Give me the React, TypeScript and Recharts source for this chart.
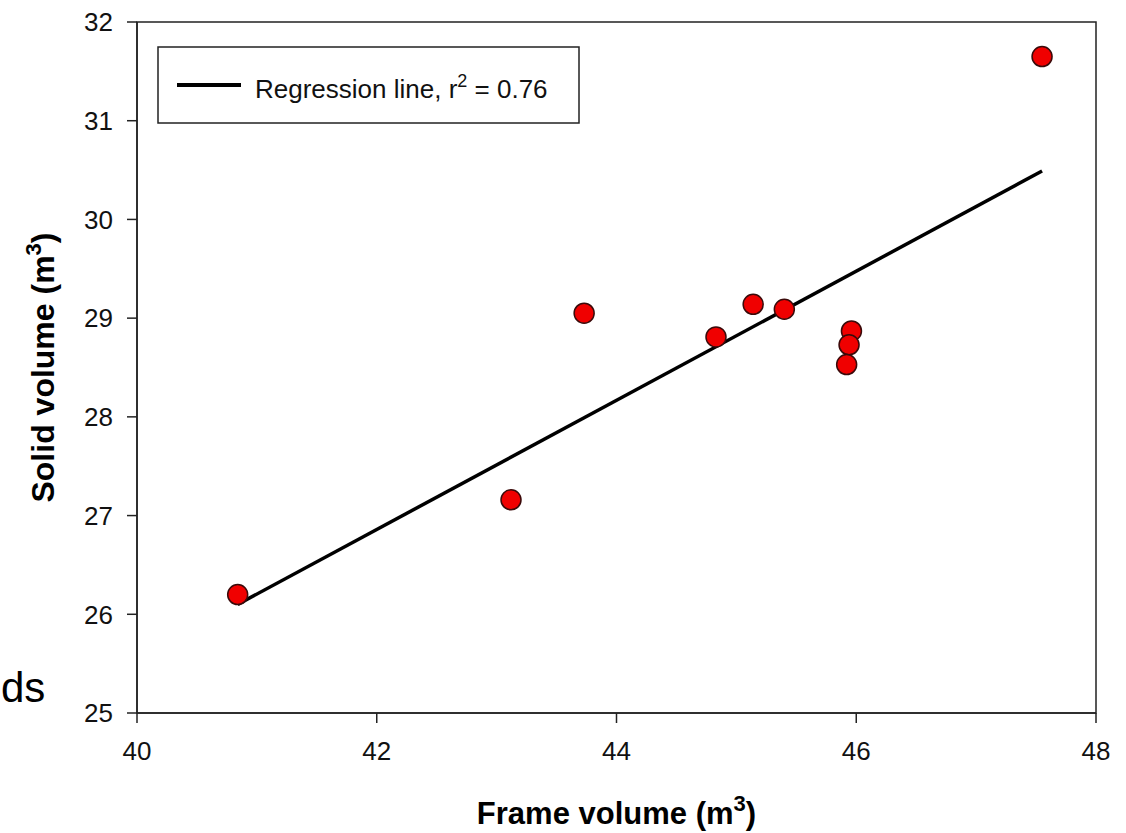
import React from 'react';
import {
  ScatterChart,
  Scatter,
  XAxis,
  YAxis,
  ReferenceArea,
  Label
} from 'recharts';

// measured points
const frameVolume = [40.84, 43.12, 43.73, 44.83, 45.14, 45.4, 45.96, 45.94, 45.92, 47.55];
const solidVolume = [26.2, 27.16, 29.05, 28.81, 29.14, 29.09, 28.87, 28.73, 28.53, 31.65];

// regression line end points
const lineX = [40.84, 47.55];
const lineY = [26.1, 30.49];

const xTicks = [40, 42, 44, 46, 48];
const yTicks = [25, 26, 27, 28, 29, 30, 31, 32];

const points = frameVolume.map((x, i) => ({ x, y: solidVolume[i] }));
const regression = lineX.map((x, i) => ({ x, y: lineY[i] }));

const FONT = 'Arial, "Liberation Sans", sans-serif';
const W = 1126;
const H = 833;

const Dot = (props: any) => (
  <circle cx={props.cx} cy={props.cy} r={10} fill="#f00000" stroke="#3a0a0a" strokeWidth={1.5} />
);

const XTitle = (props: any) => {
  const vb = props.viewBox;
  return (
    <text
      x={vb.x + vb.width / 2}
      y={vb.y + 111}
      textAnchor="middle"
      fontFamily={FONT}
      fontWeight="bold"
      fontSize={31}
      fill="#000"
    >
      Frame volume (m
      <tspan dy={-13} fontSize={22}>3</tspan>
      <tspan dy={13}>)</tspan>
    </text>
  );
};

const YTitle = (props: any) => {
  const vb = props.viewBox;
  const x = vb.x + 17;
  const y = vb.y + vb.height / 2;
  return (
    <text
      x={x}
      y={y}
      transform={`rotate(-90, ${x}, ${y})`}
      textAnchor="middle"
      fontFamily={FONT}
      fontWeight="bold"
      fontSize={32}
      fill="#000"
    >
      Solid volume (m
      <tspan dy={-13} fontSize={22}>3</tspan>
      <tspan dy={13}>)</tspan>
    </text>
  );
};

const App: React.FC = () => {
  const tick = { fill: '#111', fontSize: 26, fontFamily: FONT };
  const axisLine = { stroke: '#222', strokeWidth: 1.5 };
  return (
    <div style={{ position: 'absolute', left: 0, top: 0, width: W, height: H, background: '#fff' }}>
      <ScatterChart width={W} height={H} margin={{ top: 22, right: 30, left: 37, bottom: 60 }}>
        <XAxis
          type="number"
          dataKey="x"
          domain={[40, 48]}
          ticks={xTicks}
          allowDataOverflow
          height={60}
          tickSize={10}
          tickMargin={19}
          tick={tick}
          axisLine={axisLine}
          tickLine={axisLine}
        >
          <Label content={XTitle} />
        </XAxis>
        <YAxis
          type="number"
          dataKey="y"
          domain={[25, 32]}
          ticks={yTicks}
          allowDataOverflow
          width={100}
          tickSize={10}
          tickMargin={14}
          tick={tick}
          axisLine={axisLine}
          tickLine={axisLine}
        >
          <Label content={YTitle} />
        </YAxis>
        <ReferenceArea x1={40} x2={48} y1={25} y2={32} fill="none" fillOpacity={0} stroke="#222" strokeWidth={1.5} />
        <Scatter
          data={regression}
          line={{ stroke: '#000', strokeWidth: 3.5 }}
          shape={() => <g />}
          isAnimationActive={false}
        />
        <Scatter data={points} shape={Dot} isAnimationActive={false} />
      </ScatterChart>
      <svg
        width={W}
        height={H}
        style={{ position: 'absolute', left: 0, top: 0, pointerEvents: 'none' }}
      >
        <rect x={158} y={47} width={421} height={76} fill="#fff" stroke="#222" strokeWidth={1.5} />
        <line x1={177} y1={85} x2={241} y2={85} stroke="#000" strokeWidth={4} />
        <text x={255} y={98} fontFamily={FONT} fontSize={26} fill="#111">
          Regression line, r
          <tspan dy={-11} fontSize={18}>2</tspan>
          <tspan dy={11}> = 0.76</tspan>
        </text>
        <text x={1} y={702} fontFamily={FONT} fontSize={42} fill="#000">
          ds
        </text>
      </svg>
    </div>
  );
};

export default App;
